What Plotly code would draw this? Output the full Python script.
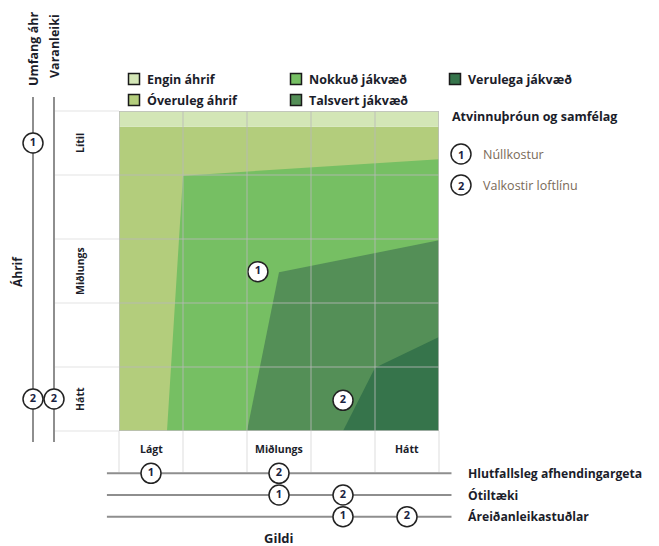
import plotly.graph_objects as go

# page body has an 8px margin, so the figure is drawn 8px in from the window edge
OFF = 8
W, H = 659 - OFF, 546 - OFF

# ---------------- data ----------------
col_labels = ["Lágt", "", "Miðlungs", "", "Hátt"]
row_labels = ["Hátt", "", "Miðlungs", "", "Lítil"]   # bottom -> top

zone_names = ["Engin áhrif", "Óveruleg áhrif", "Nokkuð jákvæð", "Talsvert jákvæð", "Verulega jákvæð"]
zone_colors = ["#d3e6b6", "#b3cd7c", "#76bf63", "#548f57", "#36744b"]

# zone polygons in grid units (x: Gildi 0-5, y: Áhrif 0-5)
oveuleg_x = [0, 5, 5, 0]
oveuleg_y = [0, 0, 4.755, 4.755]
nokkud_x = [1.0, 5, 5, 0.75]
nokkud_y = [3.99, 4.245, 0, 0]
talsvert_x = [2.5, 5, 5, 2.0]
talsvert_y = [2.48, 2.98, 0, 0]
verulega_x = [4.0, 5, 5, 3.5]
verulega_y = [0.99, 1.47, 0, 0]
engin_x = [0, 5, 5, 0]
engin_y = [4.755, 4.755, 5, 5]

# alternatives in main matrix
alt_ids = ["1", "2"]
alt_names = ["Núllkostur", "Valkostir loftlínu"]
alt_gildi = [2.17, 3.5]
alt_ahrif = [2.49, 0.48]

# side scale: Umfang áhrifa / Varanleiki
side_axes = ["Umfang áhr", "Varanleiki"]
umfang_ids = ["1", "2"]
umfang_vals = [4.5, 0.5]
varanleiki_ids = ["2"]
varanleiki_vals = [0.5]

# bottom scales
bottom_names = ["Hlutfallsleg afhendingargeta", "Ótiltæki", "Áreiðanleikastuðlar"]
hlut_ids, hlut_vals = ["1", "2"], [0.5, 2.5]
otil_ids, otil_vals = ["1", "2"], [2.5, 3.5]
arei_ids, arei_vals = ["1", "2"], [3.5, 4.5]

# ---------------- layout helpers ----------------
def PX(p):
    return (p - OFF) / W

def PY(p):
    return 1 - (p - OFF) / H

L, R, T, B = 119, 439, 111, 431      # main plot pixel box (window coords)
CELL = (R - L) / 5

def gx(v):
    return PX(L + CELL * v)

def gy(v):
    return PY(B - CELL * v)

FONT = "Open Sans"
DARK = "#1b1d2a"
AXGRAY = "#8e8e8e"

fig = go.Figure()

def poly(xs, ys, color, name):
    fig.add_trace(go.Scatter(x=xs + [xs[0]], y=ys + [ys[0]], fill="toself", fillcolor=color,
                             mode="lines", line=dict(width=0, color=color), name=name,
                             hoverinfo="name", showlegend=False, xaxis="x", yaxis="y"))

poly(oveuleg_x, oveuleg_y, zone_colors[1], zone_names[1])
poly(nokkud_x, nokkud_y, zone_colors[2], zone_names[2])
poly(talsvert_x, talsvert_y, zone_colors[3], zone_names[3])
poly(verulega_x, verulega_y, zone_colors[4], zone_names[4])
poly(engin_x, engin_y, zone_colors[0], zone_names[0])

marker_style = dict(size=20, color="white", line=dict(width=1.5, color="#222222"))
num_font = dict(family=FONT, size=11, color="#1a2340", weight="bold")

def markers(xs, ys, ids, xa, ya):
    fig.add_trace(go.Scatter(x=xs, y=ys, mode="markers+text", text=ids, textposition="middle center",
                             marker=marker_style, textfont=num_font, cliponaxis=False,
                             showlegend=False, hoverinfo="skip", xaxis=xa, yaxis=ya))

# left side axis lines (x2 / y2)
y2_lo, y2_hi = (B - 442) / CELL, (B - 97) / CELL
for i in range(len(side_axes)):
    fig.add_trace(go.Scatter(x=[i, i], y=[y2_lo, y2_hi], mode="lines",
                             line=dict(color=AXGRAY, width=2), showlegend=False,
                             hoverinfo="skip", xaxis="x2", yaxis="y2"))
markers([0] * len(umfang_vals), umfang_vals, umfang_ids, "x2", "y2")
markers([1] * len(varanleiki_vals), varanleiki_vals, varanleiki_ids, "x2", "y2")

# bottom axis lines (x3 / y3)
x3_lo, x3_hi = (106.7 - L) / CELL, (451.7 - L) / CELL
for i in range(len(bottom_names)):
    fig.add_trace(go.Scatter(x=[x3_lo, x3_hi], y=[i, i], mode="lines",
                             line=dict(color=AXGRAY, width=2), showlegend=False,
                             hoverinfo="skip", xaxis="x3", yaxis="y3"))
markers(hlut_vals, [0] * len(hlut_vals), hlut_ids, "x3", "y3")
markers(otil_vals, [1] * len(otil_vals), otil_ids, "x3", "y3")
markers(arei_vals, [2] * len(arei_vals), arei_ids, "x3", "y3")

# main markers
markers(alt_gildi, alt_ahrif, alt_ids, "x", "y")

shapes = []
annotations = []

def ann(**kw):
    kw.setdefault("xanchor", "center")
    kw.setdefault("yanchor", "middle")
    kw.setdefault("showarrow", False)
    annotations.append(kw)

# grid lines inside the plot (above fills)
for i in range(1, 5):
    shapes.append(dict(type="line", xref="x", yref="y", x0=i, x1=i, y0=0, y1=5,
                       line=dict(color="rgba(185,185,185,0.55)", width=1.5), layer="above"))
    shapes.append(dict(type="line", xref="x", yref="y", x0=0, x1=5, y0=i, y1=i,
                       line=dict(color="rgba(185,185,185,0.55)", width=1.5), layer="above"))
shapes.append(dict(type="rect", xref="x", yref="y", x0=0, x1=5, y0=0, y1=5,
                   line=dict(color="#bdbdbd", width=1.5), layer="above"))

# extensions of grid below and left
for i in range(6):
    shapes.append(dict(type="line", xref="paper", yref="paper", x0=gx(i), x1=gx(i),
                       y0=PY(B), y1=PY(472), line=dict(color="#e3e3e3", width=1.2)))
    shapes.append(dict(type="line", xref="paper", yref="paper", x0=PX(55), x1=gx(0),
                       y0=gy(i), y1=gy(i), line=dict(color="#e3e3e3", width=1.2)))

lab_font = dict(family=FONT, size=10.5, color=DARK, weight="bold")
# column / row labels
for i, lab in enumerate(col_labels):
    if lab:
        ann(x=i + 0.5, y=PY(449), xref="x", yref="paper", text=lab, font=lab_font)
for i, lab in enumerate(row_labels):
    if lab:
        ann(x=PX(80), y=i + 0.5, xref="paper", yref="y", text=lab, textangle=-90, font=lab_font)

# bottom scale labels
for i, lab in enumerate(bottom_names):
    ann(x=PX(466), y=i, xref="paper", yref="y3", text=lab, xanchor="left",
        font=dict(family=FONT, size=12.2, color=DARK, weight="bold"))

ann(x=PX(279), y=PY(538), xref="paper", yref="paper", text="Gildi",
    font=dict(family=FONT, size=13, color=DARK, weight="bold"))
ann(x=PX(17), y=PY(272), xref="paper", yref="paper", text="Áhrif", textangle=-90,
    font=dict(family=FONT, size=12, color=DARK, weight="bold"))
ann(x=PX(33), y=PY(10), xref="paper", yref="paper", text=side_axes[0], textangle=-90,
    yanchor="top", font=dict(family=FONT, size=12.5, color=DARK, weight="bold"))
ann(x=PX(54), y=PY(12), xref="paper", yref="paper", text=side_axes[1], textangle=-90,
    yanchor="top", font=dict(family=FONT, size=12.5, color=DARK, weight="bold"))

# legend (zones)
leg_pos = [(134, 79), (134, 100), (296, 79), (296, 100), (455, 79)]
for (cx, cy), name, col in zip(leg_pos, zone_names, zone_colors):
    shapes.append(dict(type="rect", xref="paper", yref="paper", x0=PX(cx - 5.5), x1=PX(cx + 5.5),
                       y0=PY(cy + 5.5), y1=PY(cy - 5.5), fillcolor=col,
                       line=dict(color="#1a1a1a", width=1.5)))
    ann(x=PX(cx + 11), y=PY(cy), xref="paper", yref="paper", text=name, xanchor="left",
        font=dict(family=FONT, size=12.5, color=DARK, weight="bold"))

# right legend (alternatives)
ann(x=PX(450), y=PY(117), xref="paper", yref="paper", text="Atvinnuþróun og samfélag",
    xanchor="left", font=dict(family=FONT, size=12.5, color=DARK, weight="bold"))
for k, (aid, aname) in enumerate(zip(alt_ids, alt_names)):
    cy = 154 + 31 * k
    shapes.append(dict(type="circle", xref="paper", yref="paper", x0=PX(451), x1=PX(471),
                       y0=PY(cy + 10), y1=PY(cy - 10), fillcolor="white",
                       line=dict(color="#222222", width=1.5)))
    ann(x=PX(461), y=PY(cy), xref="paper", yref="paper", text=aid, font=num_font)
    ann(x=PX(481), y=PY(cy), xref="paper", yref="paper", text=aname, xanchor="left",
        font=dict(family=FONT, size=12.5, color="#7a6a58"))

noax = dict(showgrid=False, zeroline=False, showticklabels=False, showline=False, ticks="", fixedrange=True)

fig.update_layout(
    width=W, height=H, margin=dict(l=0, r=0, t=0, b=0),
    paper_bgcolor="white", plot_bgcolor="rgba(0,0,0,0)",
    showlegend=False,
    xaxis=dict(domain=[PX(L), PX(R)], range=[0, 5], **noax),
    yaxis=dict(domain=[PY(B), PY(T)], range=[0, 5], **noax),
    xaxis2=dict(domain=[PX(22.5), PX(64.5)], range=[-0.5, 1.5], anchor="y2", **noax),
    yaxis2=dict(domain=[PY(442), PY(97)], range=[y2_lo, y2_hi], anchor="x2", **noax),
    xaxis3=dict(domain=[PX(106.7), PX(451.7)], range=[x3_lo, x3_hi], anchor="y3", **noax),
    yaxis3=dict(domain=[PY(527.55), PY(462.45)], range=[2.5, -0.5], anchor="x3", **noax),
    shapes=shapes, annotations=annotations,
)

fig.write_html("out.html")
